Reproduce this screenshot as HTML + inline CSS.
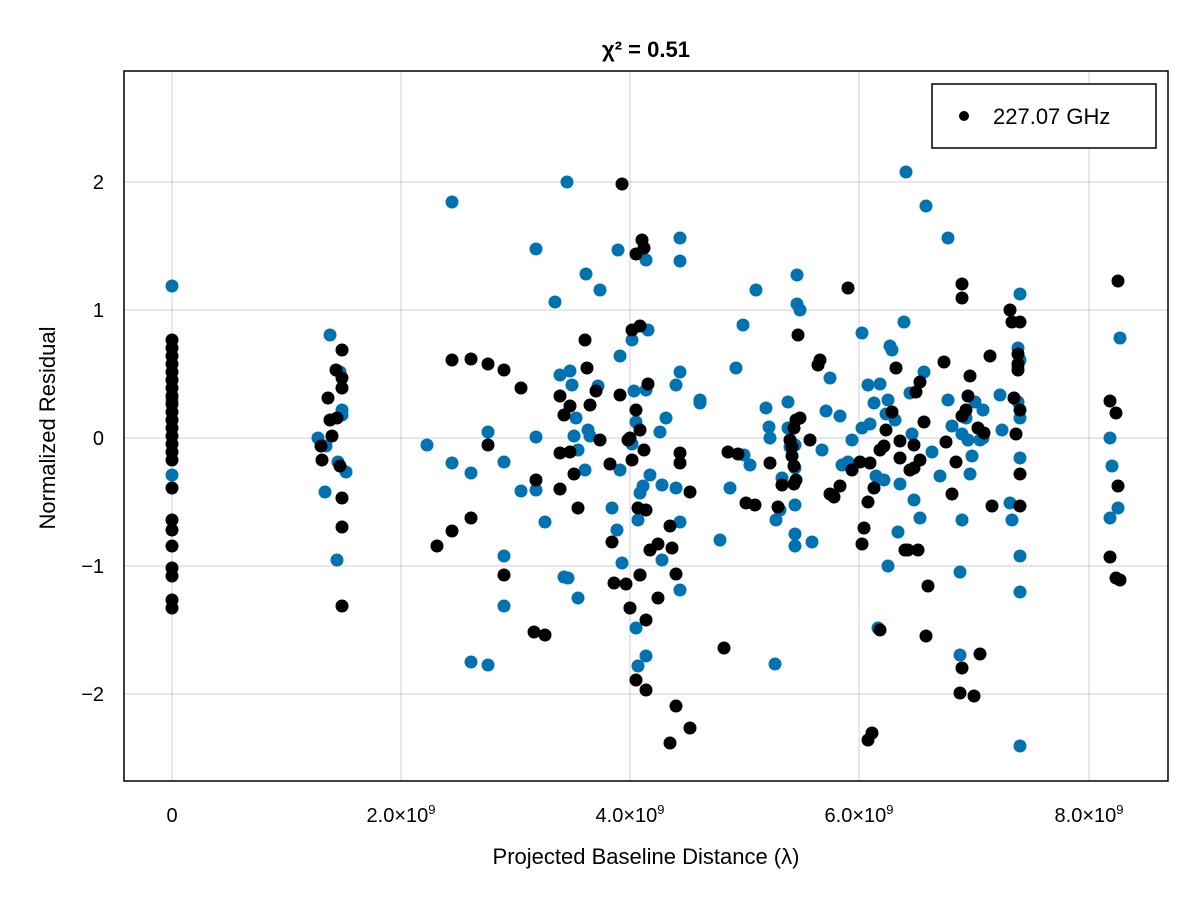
<!DOCTYPE html>
<html><head><meta charset="utf-8"><style>
body{margin:0;background:#fff}
svg text{font-family:"Liberation Sans",sans-serif;fill:#000}
</style></head><body>
<svg id="s" width="1200" height="900" xmlns="http://www.w3.org/2000/svg">
<rect width="1200" height="900" fill="#fff"/>
<g stroke="#000" stroke-opacity="0.12" stroke-width="1.5">
<line x1="172" y1="71" x2="172" y2="781"/><line x1="401" y1="71" x2="401" y2="781"/>
<line x1="630" y1="71" x2="630" y2="781"/><line x1="859" y1="71" x2="859" y2="781"/>
<line x1="1089" y1="71" x2="1089" y2="781"/>
<line x1="124" y1="182" x2="1168" y2="182"/><line x1="124" y1="310" x2="1168" y2="310"/>
<line x1="124" y1="438" x2="1168" y2="438"/><line x1="124" y1="566" x2="1168" y2="566"/>
<line x1="124" y1="694" x2="1168" y2="694"/>
</g>
<g id="pts"></g>
<rect x="124" y="71" width="1044" height="710" fill="none" stroke="#000" stroke-width="1.5"/>
<g font-size="20" text-anchor="middle">
<text x="172" y="822">0</text>
<text x="401" y="822">2.0×10<tspan font-size="13" dy="-8">9</tspan></text>
<text x="630" y="822">4.0×10<tspan font-size="13" dy="-8">9</tspan></text>
<text x="859" y="822">6.0×10<tspan font-size="13" dy="-8">9</tspan></text>
<text x="1089" y="822">8.0×10<tspan font-size="13" dy="-8">9</tspan></text>
</g>
<g font-size="20" text-anchor="end">
<text x="104" y="189">2</text><text x="104" y="317">1</text><text x="104" y="445">0</text>
<text x="104" y="573">−1</text><text x="104" y="701">−2</text>
</g>
<text x="646" y="864" font-size="22" text-anchor="middle">Projected Baseline Distance (λ)</text>
<text transform="translate(55,428) rotate(-90)" font-size="22" text-anchor="middle">Normalized Residual</text>
<text x="646" y="57" font-size="22" font-weight="bold" text-anchor="middle">χ² = 0.51</text>
<rect x="932" y="84" width="224" height="64" fill="#fff" stroke="#000" stroke-width="1.5"/>
<circle cx="964" cy="116" r="5" fill="#000"/>
<text x="993" y="124" font-size="22">227.07 GHz</text>
</svg>
<script>
var B=[[172,286],[172,475],[172,400],[172,380],[172,420],[330,335],[318,438],[325,492],[337,560],[342,410],[342,415],[340,372],[338,462],[346,472],[326,446],
[452,202],[427,445],[452,463],[471,662],[471,473],[488,432],[488,665],[504,462],[504,556],[504,606],[521,491],[536,249],[536,437],[536,490],[545,522],[555,302],[560,375],[564,577],[568,578],[567,182],[570,371],[572,385],[574,436],[576,418],[578,598],[578,450],[585,470],[586,274],[588,430],[590,436],[598,386],[600,290],[612,508],[617,530],[618,250],[620,356],[620,470],[622,563],[630,608],[632,340],[632,444],[634,391],[636,422],[636,628],[638,666],[638,520],[640,493],[640,575],[643,486],[646,390],[646,260],[646,656],[648,330],[650,475],[660,432],[662,485],[662,560],[666,418],[676,385],[676,488],[680,590],[680,522],[680,238],[680,261],[680,372],[700,400],[700,403],[720,540],[730,488],[736,368],[743,325],[744,455],[750,465],[756,290],[766,408],[769,427],[770,438],[775,664],[776,520],[780,510],[782,478],[788,402],[788,428],[790,447],[795,445],[795,468],[795,505],[795,534],[795,546],[797,275],[797,304],[800,310],[812,542],[822,450],[826,411],[830,378],[840,416],[842,465],[848,462],[852,440],[862,428],[862,333],[868,385],[870,424],[874,403],[876,476],[878,628],[880,384],[884,480],[886,414],[888,400],[888,566],[890,346],[892,350],[895,420],[898,532],[900,484],[904,322],[906,172],[910,393],[912,434],[914,500],[920,518],[924,372],[926,206],[932,452],[940,476],[948,400],[948,238],[952,426],[960,572],[960,655],[962,520],[962,434],[966,418],[968,440],[970,474],[972,456],[975,402],[980,440],[983,410],[983,438],[1000,395],[1002,430],[1010,503],[1012,520],[1018,348],[1018,366],[1018,402],[1020,360],[1020,592],[1020,458],[1020,746],[1020,418],[1020,294],[1020,556],[1110,438],[1110,518],[1112,466],[1118,508],[1120,338]];
var K=[[322,460],[337,418],[321,446],[342,606],[342,527],[342,498],[340,466],[328,398],[330,420],[332,436],[336,370],[342,350],[342,378],[342,388],
[437,546],[452,360],[452,531],[471,359],[471,518],[488,445],[488,364],[504,370],[504,575],[521,388],[534,632],[536,480],[545,635],[560,489],[560,453],[570,452],[578,508],[585,340],[587,368],[590,405],[596,391],[600,440],[610,464],[614,583],[620,395],[626,584],[630,438],[636,410],[638,508],[640,575],[646,510],[650,550],[658,544],[670,526],[672,548],[680,453],[680,463],[690,728],[690,492],[622,184],[642,240],[644,248],[636,254],[658,598],[630,608],[646,620],[636,680],[646,690],[676,706],[670,743],[676,574],[612,542],[628,440],[632,460],[640,430],[644,450],[648,384],[632,330],[640,326],[574,474],[564,415],[560,396],[570,406],
[728,452],[738,454],[746,503],[755,505],[770,463],[778,507],[782,485],[790,440],[792,456],[796,480],[798,335],[800,418],[810,440],[818,365],[830,494],[834,497],[840,486],[852,470],[860,462],[862,544],[864,528],[868,502],[870,463],[872,733],[874,488],[880,630],[880,450],[884,446],[886,430],[892,412],[896,368],[900,441],[900,458],[905,550],[908,550],[910,470],[914,468],[914,445],[916,392],[918,550],[920,382],[920,460],[924,422],[926,636],[928,586],[944,362],[946,442],[952,494],[956,462],[960,693],[962,284],[962,298],[962,416],[966,410],[968,396],[970,376],[974,696],[978,428],[980,654],[984,433],[990,356],[992,506],[1010,310],[1012,322],[1014,398],[1016,434],[1018,354],[1018,364],[1020,322],[1018,370],[1020,410],[1020,474],[1020,506],[792,447],[794,428],[794,466],[794,484],[796,420],[724,648],[820,360],[848,288],[868,740],[962,668],[1110,401],[1116,413],[1118,486],[1116,578],[1118,281],[1120,580],[1110,557]];
for(var y=340;y<=452;y+=8)K.push([172,y]);
[460,488,520,530,546,568,576,600,608].forEach(function(y){K.push([172,y])});
var h='';
B.forEach(function(p){h+='<circle cx="'+p[0]+'" cy="'+p[1]+'" r="6.5" fill="#0072b2"/>'});
K.forEach(function(p){h+='<circle cx="'+p[0]+'" cy="'+p[1]+'" r="6.5" fill="#000"/>'});
document.getElementById('pts').innerHTML=h;
</script>
</body></html>
